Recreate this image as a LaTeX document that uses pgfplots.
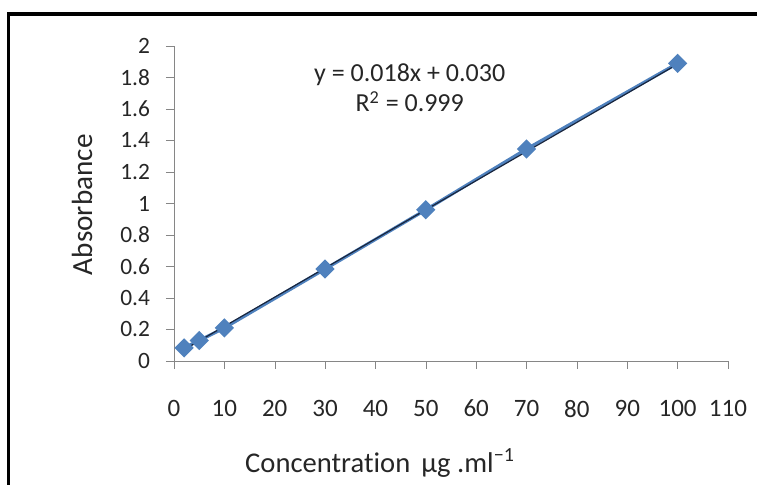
\documentclass[border=0pt]{standalone}
\usepackage{fontspec}
\setmainfont{Carlito}[Ligatures=NoCommon]
\usepackage{pgfplots}
\pgfplotsset{compat=1.18}
\definecolor{exblue}{RGB}{79,129,189}
\definecolor{trend}{RGB}{25,38,62}
\definecolor{axgrey}{RGB}{134,134,134}
\begin{document}
\begin{tikzpicture}
\useasboundingbox (0,0) rectangle (378.5pt,242.5pt);
\draw[line width=1.6pt] (4.25pt,0) -- (4.25pt,235.5pt) -- (378.5pt,235.5pt);
\begin{axis}[
  at={(87pt,62pt)}, anchor=origin,
  scale only axis, width=277pt, height=157.5pt,
  xmin=0, xmax=110, ymin=0, ymax=2,
  axis lines=left, axis line style={draw=axgrey, -},
  xtick={0,10,...,110}, ytick={0,0.2,...,2.01},
  tick align=outside, major tick length=4pt,
  tick style={draw=axgrey},
  /pgf/number format/assume math mode=true,
  ticklabel style={text=black!85},
  xticklabel style={font=\fontsize{12.5}{14}\selectfont, yshift=-12pt},
  yticklabel style={font=\fontsize{11.7}{13}\selectfont, xshift=-4.5pt, /pgf/number format/fixed},
  xlabel={Concentration \,µg .ml\textsuperscript{−1}},
  ylabel={Absorbance},
  label style={text=black!85},
  xlabel style={font=\fontsize{14.3}{16}\selectfont, at={(axis description cs:0.372,0)}, anchor=center, yshift=-51pt},
  ylabel style={font=\fontsize{14.6}{16}\selectfont, at={(axis description cs:0,0.496)}, anchor=center, yshift=46pt},
  clip=false,
]
\addplot[exblue, line width=1.6pt, mark=square*, mark size=2.6pt,
  mark options={rotate=45, fill=exblue, draw=exblue}]
  coordinates {(2,0.083) (5,0.13) (10,0.21) (30,0.584) (50,0.96) (70,1.346) (100,1.89)};
\addplot[trend, line width=0.6pt] coordinates {(2,0.072) (100,1.885)};
\node[font=\fontsize{13}{15}\selectfont, text=black!85, align=center] at (axis cs:46.8,1.733)
  {y = 0.018x + 0.030\\ R\textsuperscript{2} = 0.999};
\end{axis}
\end{tikzpicture}
\end{document}
